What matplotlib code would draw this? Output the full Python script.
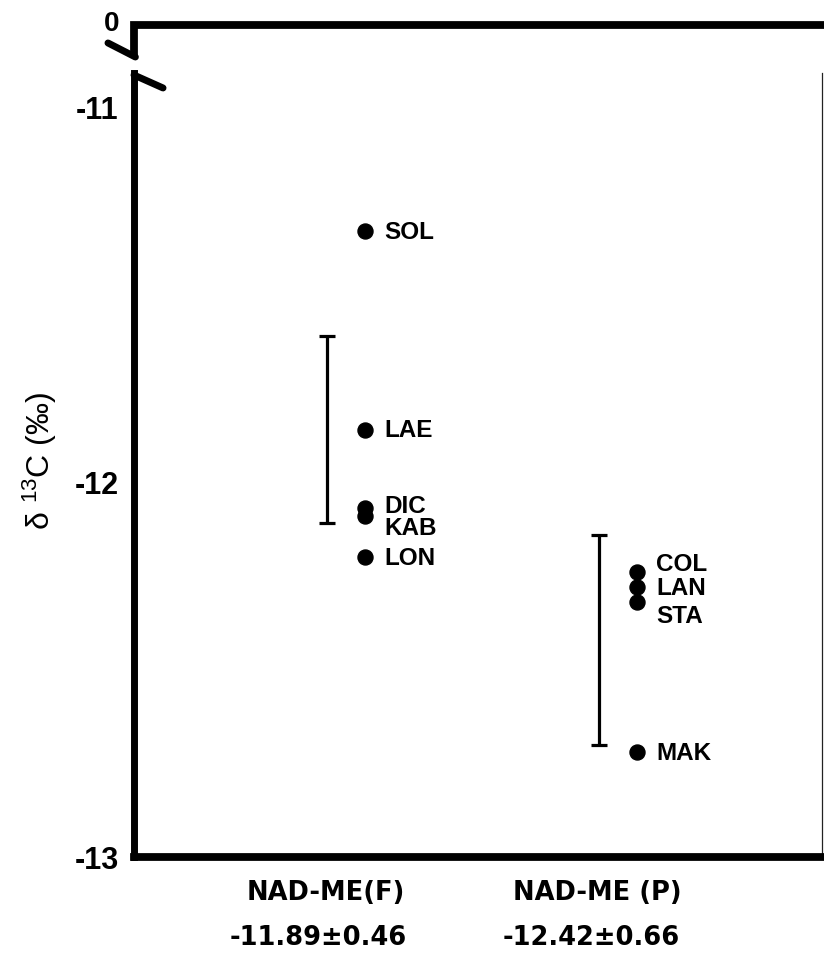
import matplotlib
matplotlib.use("Agg")
import matplotlib.pyplot as plt
from matplotlib import transforms
from matplotlib.lines import Line2D

plt.rcParams["font.family"] = ["Liberation Sans", "DejaVu Sans"]
plt.rcParams["mathtext.fontset"] = "custom"
plt.rcParams["mathtext.rm"] = "Liberation Sans"
plt.rcParams["mathtext.it"] = "Liberation Sans:italic"
plt.rcParams["mathtext.bf"] = "Liberation Sans:bold"

# ---- data -------------------------------------------------------------
groups = ["NAD-ME(F)", "NAD-ME (P)"]
group_means = [-11.89, -12.42]
group_sds = [0.46, 0.66]

f_species = ["SOL", "LAE", "DIC", "KAB", "LON"]
f_values = [-11.33, -11.86, -12.07, -12.09, -12.20]

p_species = ["COL", "LAN", "STA", "MAK"]
p_values = [-12.24, -12.28, -12.32, -12.72]

bar_low = [-12.11, -12.70]
bar_high = [-11.61, -12.14]

y_ticks = [-13, -12, -11]

# ---- layout -----------------------------------------------------------
W, H, DPI = 824, 955, 100
group_x = [1, 2]
bar_shift = -0.14
# vertical nudges (points) that keep crowded species labels apart
f_nudge = [0, 0, 2.5, -8, 0]
p_nudge = [6.5, 0, -9.5, 0]

fig = plt.figure(figsize=(W / DPI, H / DPI), dpi=DPI)
ax = fig.add_axes([134 / W, 98 / H, 688 / W, 784 / H])

# species points and names
for gx, names, vals, nudges in zip(group_x, [f_species, p_species],
                                   [f_values, p_values], [f_nudge, p_nudge]):
    ax.plot([gx] * len(vals), vals, "o", color="black", ms=10.8,
            mec="black", zorder=3)
    for name, v, dy in zip(names, vals, nudges):
        ax.annotate(name, (gx, v), xytext=(14.0, dy - 1.0),
                    textcoords="offset points", ha="left", va="center",
                    fontsize=17.5, fontweight="bold",
                    family=["Liberation Sans", "DejaVu Sans"])

# range bars
for gx, lo, hi in zip(group_x, bar_low, bar_high):
    c = (lo + hi) / 2
    ax.errorbar([gx + bar_shift], [c], yerr=[[c - lo], [hi - c]], fmt="none",
                ecolor="black", elinewidth=2.3, capsize=6.0, capthick=2.3)

ax.set_xlim(0.151, 2.680)
ax.set_ylim(-13, -10.909)
ax.set_xticks([])

# y axis: labels on major ticks, a single inward stub at -12
ax.set_yticks(y_ticks)
ax.set_yticklabels([f"{t:g}" for t in y_ticks])
ax.tick_params(axis="y", which="major", length=0, pad=11, labelsize=22)
for lab in ax.get_yticklabels():
    lab.set_fontweight("bold")
ax.set_yticks([-12], minor=True)
ax.tick_params(axis="y", which="minor", direction="in", length=14,
               width=4.4, color="black")

ax.set_ylabel("δ $^{13}$C (‰)", fontsize=23, rotation=90)
ax.yaxis.label.set_verticalalignment("center")
ax.yaxis.set_label_coords(-(134 - 40) / 688, (857 - 461) / 784)

# spines
ax.spines["top"].set_visible(False)
for side, lw in (("left", 5.0), ("bottom", 5.6)):
    ax.spines[side].set_linewidth(lw)
    ax.spines[side].set_capstyle("projecting")
ax.spines["right"].set_linewidth(0.9)
ax.spines["right"].set_color("#222222")

# broken axis: zero line on top, break marks on the left spine
ta = ax.transAxes
ax.add_artist(Line2D([0, 0, 1.005], [1.0204, 1.0612, 1.0612], transform=ta,
                     lw=5.6, color="black", solid_joinstyle="miter",
                     solid_capstyle="butt", clip_on=False))
ax.add_artist(Line2D([0.002, -0.0378], [1.0204, 1.0383], transform=ta,
                     lw=5.0, color="black", solid_capstyle="round",
                     clip_on=False))
ax.add_artist(Line2D([0.0, 0.0422], [0.9974, 0.9809], transform=ta,
                     lw=5.0, color="black", solid_capstyle="round",
                     clip_on=False))
ax.text(-0.032, 1.0625, "0", transform=ta, ha="center", va="center",
        fontsize=20, fontweight="bold")

# group names and summary statistics under the axis
tr = transforms.blended_transform_factory(ax.transData, fig.transFigure)
for gx, name, m, s in zip(group_x, groups, group_means, group_sds):
    ax.text(gx - 0.145, (H - 893) / H, name, transform=tr, ha="center",
            va="center", fontsize=18.5, fontweight="bold",
            family=["DejaVu Sans"])
    ax.text(gx - 0.17, (H - 938) / H, f"{m:.2f}±{s:.2f}", transform=tr,
            ha="center", va="center", fontsize=18.5, fontweight="bold",
            family=["DejaVu Sans"])

fig.savefig("out.png", dpi=DPI)
